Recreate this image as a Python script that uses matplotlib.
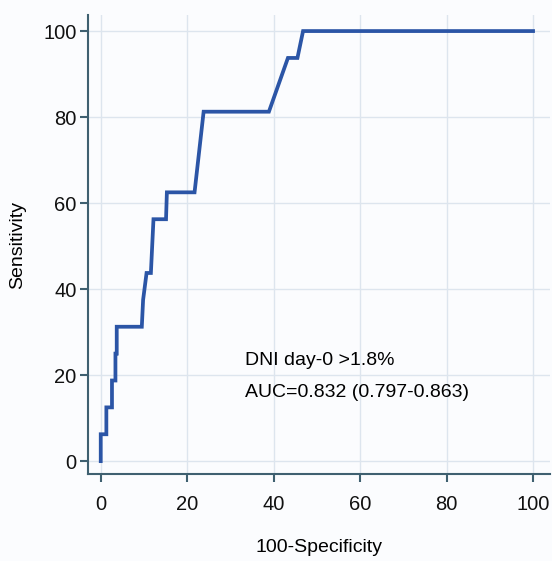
import matplotlib
matplotlib.use("Agg")
import matplotlib.pyplot as plt

# ROC curve vertices (100-specificity, sensitivity)
fpr = [0, 0, 1.3, 1.3, 2.6, 2.6, 3.4, 3.4, 3.7, 3.7, 9.5, 9.8, 10.6, 11.6,
       12.2, 15.1, 15.3, 21.7, 23.8, 38.9, 43.3, 45.5, 46.8, 100]
tpr = [0, 6.25, 6.25, 12.5, 12.5, 18.75, 18.75, 25, 25, 31.25, 31.25, 37.5,
       43.75, 43.75, 56.25, 56.25, 62.5, 62.5, 81.25, 81.25, 93.75, 93.75,
       100, 100]
ticks = [0, 20, 40, 60, 80, 100]
label_lines = ["DNI day-0 >1.8%", "AUC=0.832 (0.797-0.863)"]

plt.rcParams["font.family"] = ["Liberation Sans", "DejaVu Sans"]

fig = plt.figure(figsize=(5.52, 5.61), dpi=100)
fig.patch.set_facecolor("#fbfcfe")
ax = fig.add_axes([0.159, 0.155, 0.838, 0.818])
ax.set_facecolor("#fbfcfe")

ax.plot(fpr, tpr, color="#2b55a6", lw=2.7, solid_joinstyle="miter", zorder=3)

ax.set_xlim(-3, 104)
ax.set_ylim(-3, 103.7)
ax.set_xticks(ticks)
ax.set_yticks(ticks)
ax.grid(True, color="#dde5ee", lw=1.0)
ax.set_axisbelow(True)

for side in ["top", "right"]:
    ax.spines[side].set_visible(False)
for side in ["left", "bottom"]:
    ax.spines[side].set_color("#3f6070")
    ax.spines[side].set_linewidth(1.5)
ax.tick_params(colors="#3f6070", width=1.5, length=6, labelsize=14.5,
               labelcolor="#111111")
ax.tick_params(axis="x", pad=9)
ax.tick_params(axis="y", pad=2)

ax.set_xlabel("100-Specificity", fontsize=14, labelpad=18)
ax.set_ylabel("Sensitivity", fontsize=14, labelpad=12)

ax.text(33.3, 23.5, label_lines[0], fontsize=14, va="center", ha="left")
ax.text(33.3, 16.0, label_lines[1], fontsize=14, va="center", ha="left")

fig.savefig("out.png", dpi=100, facecolor=fig.get_facecolor())
